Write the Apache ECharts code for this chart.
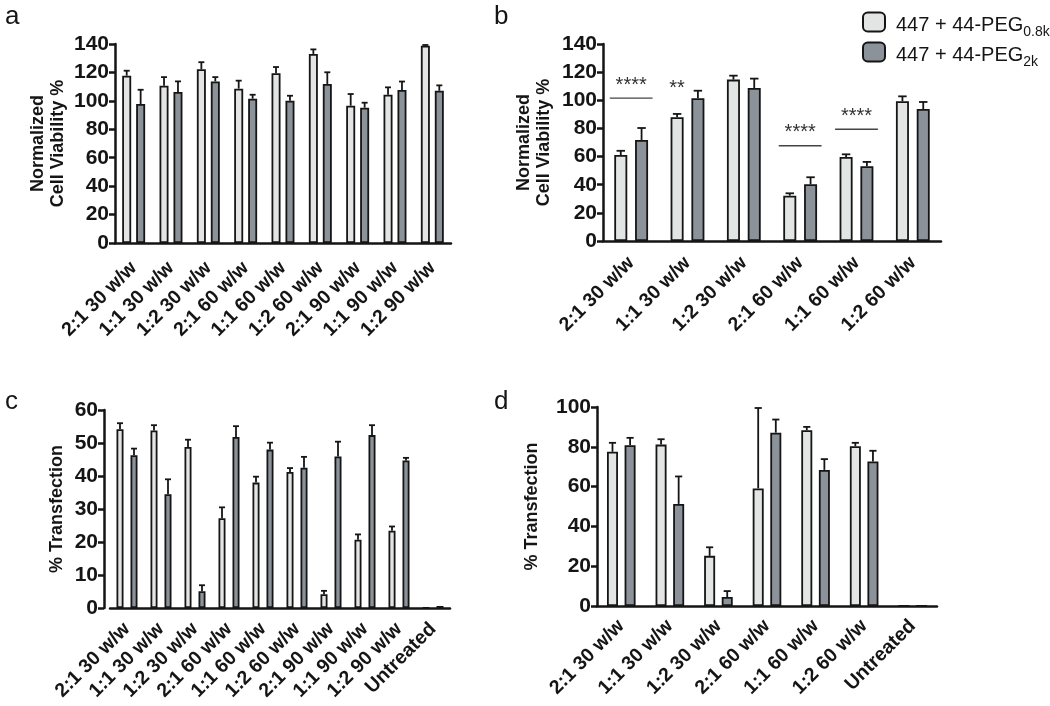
<!DOCTYPE html>
<html><head><meta charset="utf-8">
<script src="https://cdn.jsdelivr.net/npm/echarts@6/dist/echarts.min.js"></script>
<style>html,body{margin:0;padding:0;background:#fff}#chart{width:1050px;height:706px}</style>
</head><body><div id="chart"></div>
<script>
// ---------- data ----------
const catsA = ['2:1 30 w/w','1:1 30 w/w','1:2 30 w/w','2:1 60 w/w','1:1 60 w/w','1:2 60 w/w','2:1 90 w/w','1:1 90 w/w','1:2 90 w/w'];
const catsB = ['2:1 30 w/w','1:1 30 w/w','1:2 30 w/w','2:1 60 w/w','1:1 60 w/w','1:2 60 w/w'];
const catsC = ['2:1 30 w/w','1:1 30 w/w','1:2 30 w/w','2:1 60 w/w','1:1 60 w/w','1:2 60 w/w','2:1 90 w/w','1:1 90 w/w','1:2 90 w/w','Untreated'];
const catsD = ['2:1 30 w/w','1:1 30 w/w','1:2 30 w/w','2:1 60 w/w','1:1 60 w/w','1:2 60 w/w','Untreated'];

const aLight    = [117.7, 110.7, 122.2, 108.6, 119.4, 133.0, 96.6, 104.3, 138.8];
const aLightErr = [3.5, 6.0, 5.0, 5.6, 4.4, 3.2, 8.2, 5.2, 0.5];
const aDark     = [97.8, 106.2, 113.7, 101.5, 100.1, 111.9, 95.2, 107.6, 107.1];
const aDarkErr  = [10.0, 7.5, 3.0, 2.8, 3.5, 8.2, 3.5, 6.0, 3.8];

const bLight    = [61.1, 87.9, 114.7, 32.2, 59.7, 99.3];
const bLightErr = [3.0, 2.4, 2.8, 1.7, 1.9, 3.5];
const bDark     = [71.8, 101.4, 108.7, 40.3, 53.1, 93.8];
const bDarkErr  = [8.5, 5.4, 6.7, 5.0, 3.1, 5.0];

const cLight    = [54.2, 53.8, 48.8, 27.2, 38.0, 41.2, 4.2, 20.7, 23.4, 0.1];
const cLightErr = [1.8, 1.6, 2.2, 3.3, 1.8, 1.2, 1.0, 1.6, 1.3, 0];
const cDark     = [46.3, 34.5, 5.1, 51.8, 48.0, 42.5, 45.9, 52.4, 44.7, 0.6];
const cDarkErr  = [2.0, 4.5, 1.8, 3.3, 2.1, 3.3, 4.5, 3.0, 0.8, 0];

const dLight    = [77.5, 81.1, 25.2, 59.1, 88.3, 80.3, 0];
const dLightErr = [4.5, 2.7, 4.3, 40.4, 1.7, 1.7, 0];
const dDark     = [80.8, 51.3, 4.5, 87.1, 68.4, 72.6, 0];
const dDarkErr  = [3.7, 13.8, 3.0, 6.6, 5.4, 5.4, 0];

// significance annotations in panel b
const sigLabels  = ['****', '**', '****', '****'];
const sigCats    = [0, 1, 3, 4];
const sigValues  = [101.6, 99.5, 67.7, 79.4];
const sigHasLine = [true, false, true, true];

const seriesNames = ['447 + 44-PEG0.8k', '447 + 44-PEG2k'];
const legendSubs  = {'447 + 44-PEG0.8k': '0.8k', '447 + 44-PEG2k': '2k'};

// ---------- styling ----------
const FONT = '"Liberation Sans", Arial, Helvetica, sans-serif';
const INK = '#151515';
const LIGHT = '#e3e4e4';
const DARK = '#8b9299';

const panels = [
  {cats: catsA, L: aLight, LE: aLightErr, D: aDark, DE: aDarkErr, max: 140, interval: 20,
   grid: {left: 115, top: 44, width: 336, height: 199}, barW: 9, gap: 0.55, labMargin: 22,
   name: 'Normalized\nCell Viability %', nameGap: 47},
  {cats: catsB, L: bLight, LE: bLightErr, D: bDark, DE: bDarkErr, max: 140, interval: 20,
   grid: {left: 603, top: 44, width: 338, height: 197}, barW: 13, gap: 0.6, labMargin: 19,
   name: 'Normalized\nCell Viability %', nameGap: 49},
  {cats: catsC, L: cLight, LE: cLightErr, D: cDark, DE: cDarkErr, max: 60, interval: 10,
   grid: {left: 110, top: 410, width: 340, height: 198}, barW: 7, gap: 1.0, yOffset: 6, labMargin: 18,
   name: '% Transfection', nameGap: 37},
  {cats: catsD, L: dLight, LE: dLightErr, D: dDark, DE: dDarkErr, max: 100, interval: 20,
   grid: {left: 597, top: 407, width: 340, height: 199}, barW: 11, gap: 0.6, labMargin: 17,
   name: '% Transfection', nameGap: 55}
];

const grids = [], xAxes = [], yAxes = [], series = [];

panels.forEach((p, gi) => {
  grids.push(p.grid);
  xAxes.push({
    type: 'category', gridIndex: gi, data: p.cats,
    axisLine: {lineStyle: {color: INK, width: 2.5}},
    axisTick: {alignWithLabel: true, length: 7, lineStyle: {color: INK, width: 2.5}},
    axisLabel: {rotate: 45, interval: 0, margin: p.labMargin, fontSize: 19.5, fontWeight: 'bold', color: INK, fontFamily: FONT},
    splitLine: {show: false}
  });
  yAxes.push({
    type: 'value', gridIndex: gi, min: 0, max: p.max, interval: p.interval, offset: p.yOffset || 0,
    name: p.name, nameLocation: 'middle', nameGap: p.nameGap, nameRotate: 90,
    nameTextStyle: {fontSize: 18, fontWeight: 'bold', color: INK, fontFamily: FONT, lineHeight: 20},
    axisLine: {show: true, lineStyle: {color: INK, width: 2.5}},
    axisTick: {show: true, length: 6, lineStyle: {color: INK, width: 2.5}},
    axisLabel: {fontSize: 21, fontWeight: 'bold', color: INK, fontFamily: FONT, margin: 6},
    splitLine: {show: false}
  });
  const common = {type: 'bar', xAxisIndex: gi, yAxisIndex: gi, barWidth: p.barW, barGap: (p.gap * 100) + '%',
    animation: false, silent: true};
  series.push(Object.assign({}, common, {name: seriesNames[0], data: p.L,
    itemStyle: {color: LIGHT, borderColor: INK, borderWidth: 1.8}}));
  series.push(Object.assign({}, common, {name: seriesNames[1], data: p.D,
    itemStyle: {color: DARK, borderColor: INK, borderWidth: 1.8}}));
  const off = p.barW * (1 + p.gap) / 2;
  const cap = Math.max(6, p.barW * 0.65);
  const errData = [];
  p.L.forEach((v, i) => { errData.push([i, v, p.LE[i], 0]); errData.push([i, p.D[i], p.DE[i], 1]); });
  series.push({
    type: 'custom', xAxisIndex: gi, yAxisIndex: gi, data: errData, z: 5, animation: false, silent: true,
    encode: {x: 0, y: 1},
    renderItem: (params, api) => {
      const i = api.value(0), v = api.value(1), e = api.value(2), s = api.value(3);
      if (!(e > 0)) return {type: 'group', children: []};
      const p0 = api.coord([i, v]), p1 = api.coord([i, v + e]);
      const x = p0[0] + (s ? off : -off);
      const st = {stroke: INK, lineWidth: 1.8};
      return {type: 'group', children: [
        {type: 'line', shape: {x1: x, y1: p0[1], x2: x, y2: p1[1]}, style: st},
        {type: 'line', shape: {x1: x - cap / 2, y1: p1[1], x2: x + cap / 2, y2: p1[1]}, style: st}
      ]};
    }
  });
  if (gi === 1) {
    series.push({
      type: 'custom', xAxisIndex: gi, yAxisIndex: gi, z: 6, animation: false, silent: true,
      data: sigCats.map((c, k) => [c, sigValues[k], k]), encode: {x: 0, y: 1},
      renderItem: (params, api) => {
        const k = api.value(2);
        const pt = api.coord([api.value(0), api.value(1)]);
        const band = api.size([1, 0])[0];
        const children = [];
        let cx = pt[0];
        if (sigHasLine[k]) {
          const half = band * 0.38;
          children.push({type: 'line', shape: {x1: cx - half, y1: pt[1], x2: cx + half, y2: pt[1]},
            style: {stroke: '#444', lineWidth: 1.3}});
        } else {
          cx = pt[0] - off;
        }
        children.push({type: 'text', x: cx, y: pt[1] - 3, style: {text: sigLabels[k], fill: '#333',
          font: '20px ' + FONT, textAlign: 'center', textVerticalAlign: 'bottom'}});
        return {type: 'group', children};
      }
    });
  }
});

const chart = echarts.init(document.getElementById('chart'), null, {renderer: 'canvas'});
chart.setOption({
  backgroundColor: '#fff',
  animation: false,
  grid: grids, xAxis: xAxes, yAxis: yAxes, series,
  legend: {
    left: 862, top: 11, padding: 0, orient: 'vertical', itemWidth: 22, itemHeight: 19, itemGap: 2,
    data: seriesNames, selectedMode: false,
    formatter: n => '{m|' + n.replace(legendSubs[n], '') + '}{s|' + legendSubs[n] + '}',
    textStyle: {fontFamily: FONT, color: INK, rich: {
      m: {fontSize: 20, fontFamily: FONT, color: INK, lineHeight: 22, padding: [4, 0, 0, 6], verticalAlign: 'top'},
      s: {fontSize: 14, fontFamily: FONT, color: INK, lineHeight: 14, padding: [14, 0, 0, 0], verticalAlign: 'top'}
    }}
  },
  graphic: [
    {type: 'text', left: 5, top: 4, style: {text: 'a', font: '26px ' + FONT, fill: INK}},
    {type: 'text', left: 494, top: 4, style: {text: 'b', font: '26px ' + FONT, fill: INK}},
    {type: 'text', left: 5, top: 389, style: {text: 'c', font: '26px ' + FONT, fill: INK}},
    {type: 'text', left: 494, top: 389, style: {text: 'd', font: '26px ' + FONT, fill: INK}}
  ]
});
</script></body></html>
